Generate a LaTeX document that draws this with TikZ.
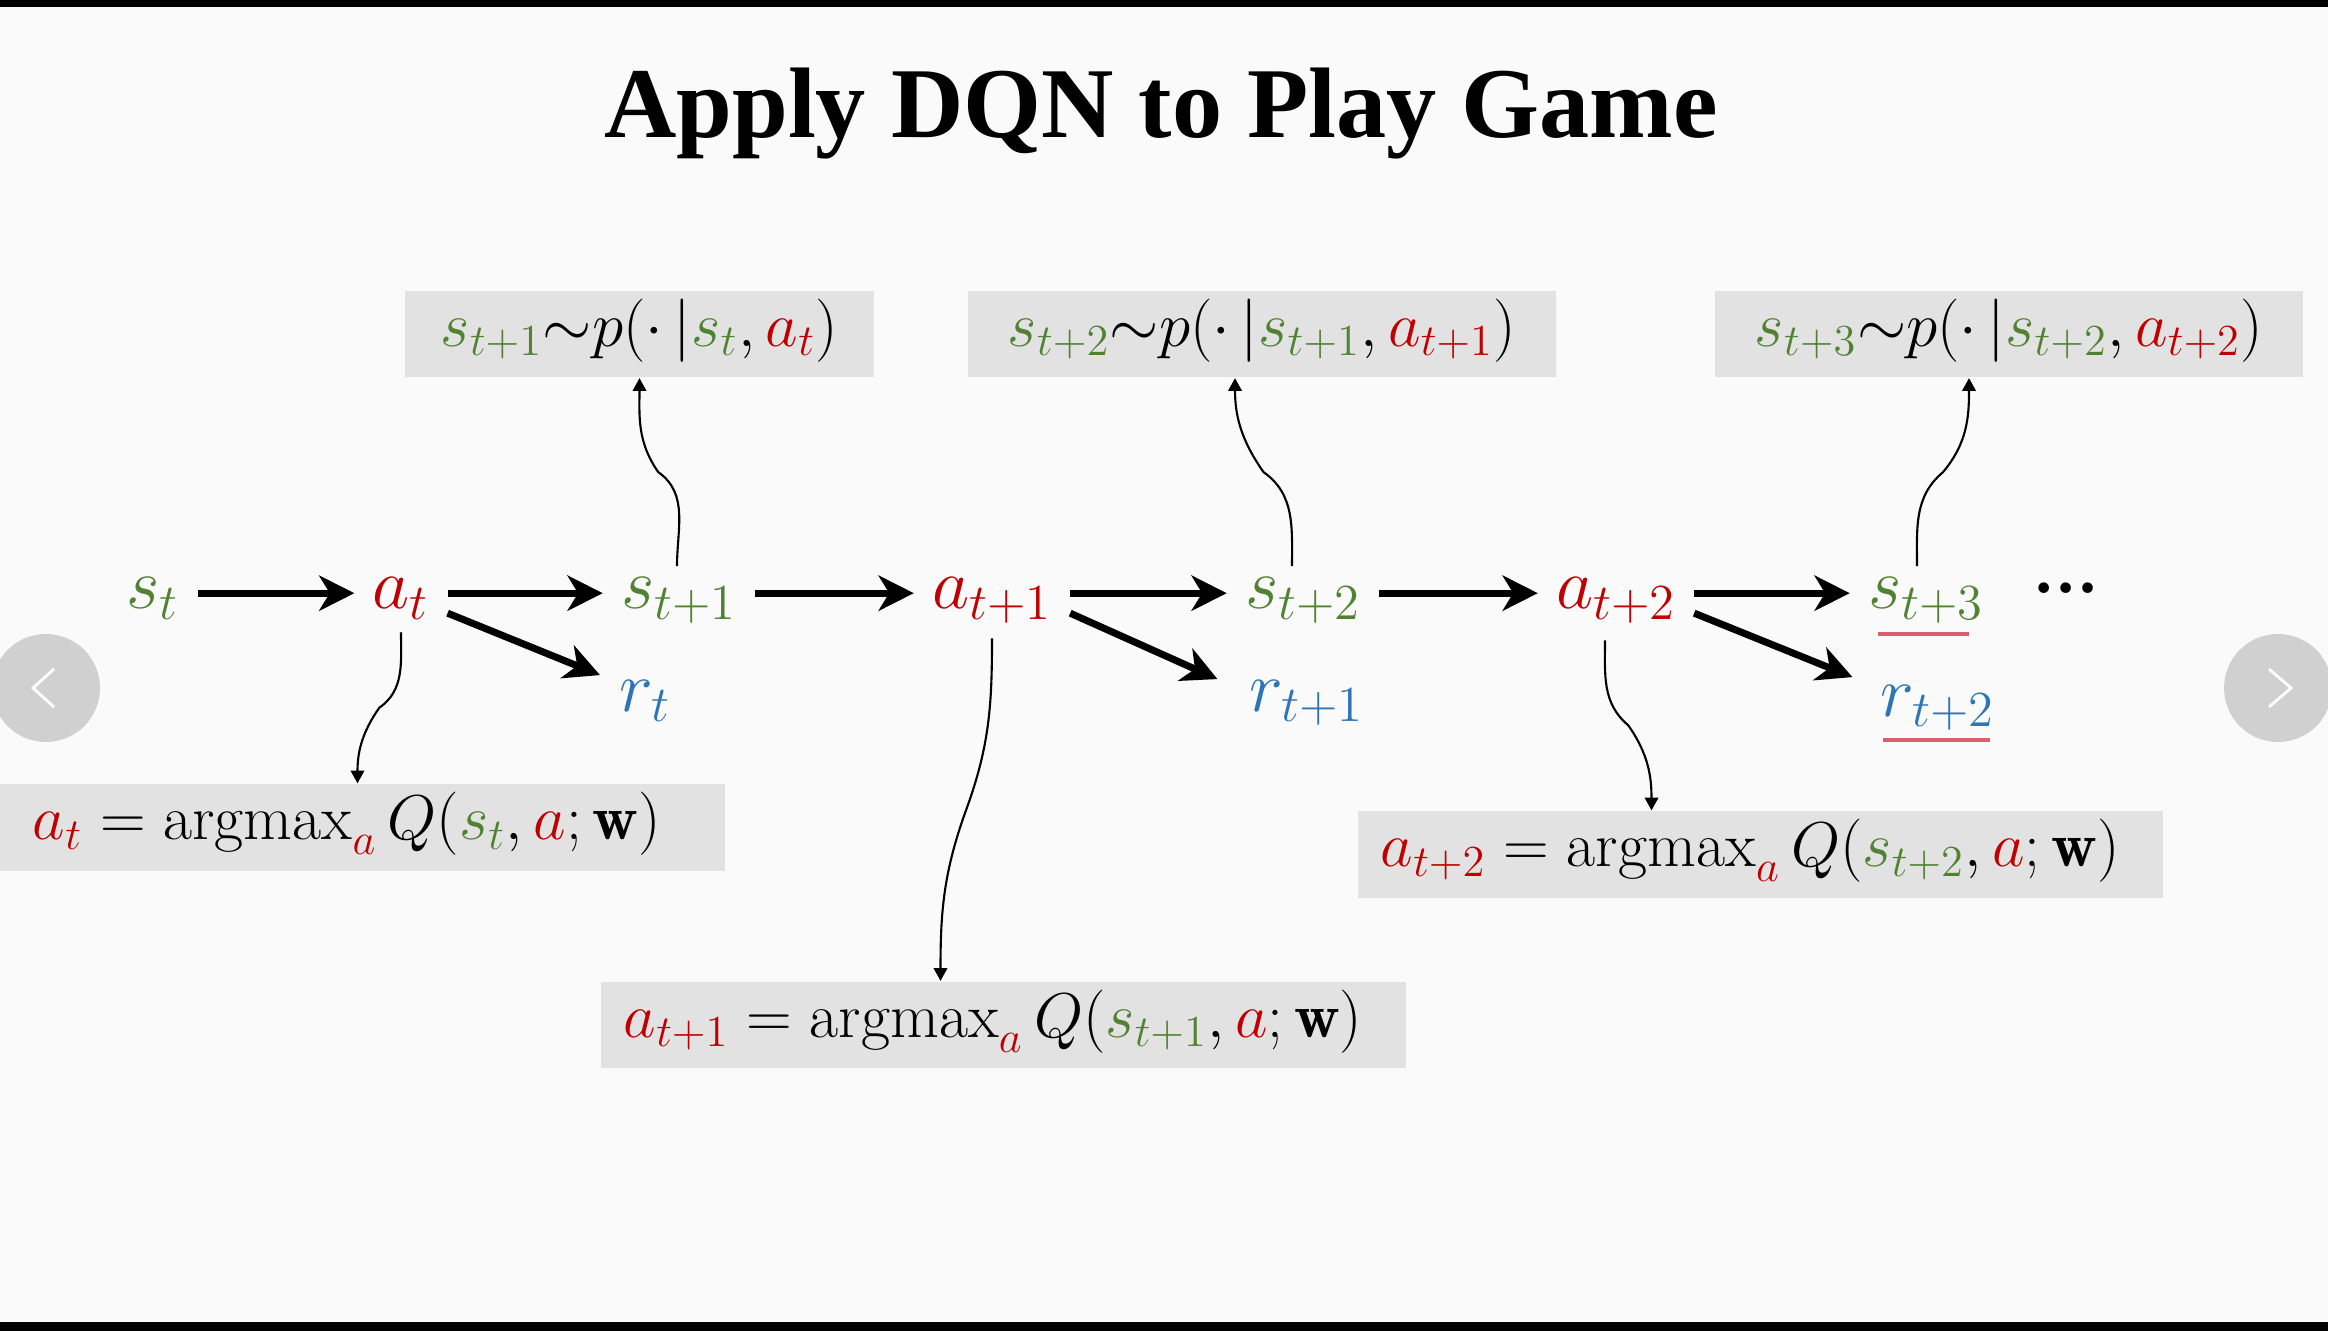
\RequirePackage{fix-cm}
\documentclass[tikz,border=0pt]{standalone}
\usepackage{fontspec}
\newfontfamily\titlefont{Liberation Serif}
\usetikzlibrary{arrows.meta,calc}
\definecolor{sgreen}{HTML}{508232}
\definecolor{ared}{HTML}{C00000}
\definecolor{rblue}{HTML}{2E75B6}
\definecolor{boxgray}{HTML}{E2E2E2}
\definecolor{bggray}{HTML}{FAFAFA}
\definecolor{navgray}{HTML}{D0D0D0}
\definecolor{ulred}{HTML}{D9606E}
\newcommand{\colS}[1]{{\color{sgreen}#1}}
\newcommand{\colA}[1]{{\color{ared}#1}}
\newcommand{\colR}[1]{{\color{rblue}#1}}
\newcommand{\argmx}{\mathop{\mathrm{argmax}}\nolimits}
\tikzset{
  lab/.style={inner xsep=5pt, inner ysep=0pt, text height=12pt, text depth=3pt,
    anchor=base, font=\fontsize{20.5}{24}\selectfont},
  gbox/.style={fill=boxgray, inner ysep=0pt, minimum height=24.7pt,
    text height=0.85em, text depth=0.15em, font=\fontsize{18}{21}\selectfont},
  gboxl/.style={gbox, align=left, inner xsep=6.5pt, text width=216pt},
  thk/.style={line width=2pt, -{Stealth[length=10pt,width=10pt,inset=3pt]}},
  thn/.style={line width=0.6pt, -{Triangle[length=3.6pt,width=3.8pt]}},
}
\begin{document}
\begin{tikzpicture}[x=0.01cm,y=0.01cm]
\useasboundingbox (0,0) rectangle (2328,-1331);
\fill[bggray] (0,0) rectangle (2328,-1331);
\fill[black] (0,0) rectangle (2328,-7);
\fill[black] (0,-1322) rectangle (2328,-1331);

% title
\node[anchor=base, font=\titlefont\bfseries\fontsize{28.5}{34}\selectfont] (title) at (1161,-138) {Apply DQN to Play Game};

% navigation buttons
\fill[navgray] (46,-688) circle (54);
\draw[white, line width=0.8pt] (54,-669) -- (33,-688) -- (54,-707);
\fill[navgray] (2278,-688) circle (54);
\draw[white, line width=0.8pt] (2269,-669) -- (2291,-688) -- (2269,-707);

% main chain
\node[lab] (st)  at (153,-609)  {$\colS{s_t}$};
\node[lab] (at)  at (401,-609)  {$\colA{a_t}$};
\node[lab] (st1) at (679,-609)  {$\colS{s_{t+1}}$};
\node[lab] (rt)  at (645,-711)  {$\colR{r_t}$};
\node[lab] (at1) at (992,-609)  {$\colA{a_{t+1}}$};
\node[lab] (st2) at (1303,-609) {$\colS{s_{t+2}}$};
\node[lab] (rt1) at (1307,-711) {$\colR{r_{t+1}}$};
\node[lab] (at2) at (1616,-609) {$\colA{a_{t+2}}$};
\node[lab] (st3) at (1926,-609) {$\colS{s_{t+3}}$};
\node[lab] (rt2) at (1938,-716) {$\colR{r_{t+2}}$};
\node[anchor=base, inner sep=0pt, font=\titlefont\bfseries\fontsize{18.5}{20}\selectfont] (dots) at (2066,-593) {…};

% boxes
\node[gbox, minimum width=133.4pt] (b1) at (639.5,-334)
  {$\colS{s_{t+1}}{\sim}p(\cdot\,|\colS{s_t},\colA{a_t})$};
\node[gbox, minimum width=167.3pt] (b2) at (1262,-334)
  {$\colS{s_{t+2}}{\sim}p(\cdot\,|\colS{s_{t+1}},\colA{a_{t+1}})$};
\node[gbox, minimum width=167.3pt] (b3) at (2009,-334)
  {$\colS{s_{t+3}}{\sim}p(\cdot\,|\colS{s_{t+2}},\colA{a_{t+2}})$};
\node[gboxl, inner xsep=12.2pt, text width=184.7pt] (b4) at (357.5,-827.5)
  {$\colA{a_t}=\argmx_{\colA{a}} Q(\colS{s_t},\colA{a};\mathbf{w})$};
\node[gboxl] (b5) at (1003.5,-1025)
  {$\colA{a_{t+1}}=\argmx_{\colA{a}} Q(\colS{s_{t+1}},\colA{a};\mathbf{w})$};
\node[gboxl] (b6) at (1760.5,-854.5)
  {$\colA{a_{t+2}}=\argmx_{\colA{a}} Q(\colS{s_{t+2}},\colA{a};\mathbf{w})$};

% thick arrows
\draw[thk] (st) -- (at);
\draw[thk] (at) -- (st1);
\draw[thk] (st1) -- (at1);
\draw[thk] (at1) -- (st2);
\draw[thk] (st2) -- (at2);
\draw[thk] (at2) -- (st3);
\draw[thk] ($(at.east)+(0,-20)$) -- ($(rt.north west)+(-1,-7)$);
\draw[thk] ($(at1.east)+(0,-20)$) -- ($(rt1.north west)+(-14,-11)$);
\draw[thk] ($(at2.east)+(0,-20)$) -- ($(rt2.north west)+(-10,-4)$);

% curved thin connectors
\coordinate (c1s) at ($(st1.north)+(-2,0)$);
\coordinate (c1e) at (b1.south);
\draw[thn] (c1s) to[out=90,in=-35] ($(c1s)!0.5!(c1e)$) to[out=125,in=-90] (c1e);
\coordinate (c2s) at ($(st2.north)+(-11,0)$);
\coordinate (c2e) at ($(b2.south)+(-27,0)$);
\draw[thn] (c2s) to[out=90,in=-35] ($(c2s)!0.5!(c2e)$) to[out=125,in=-90] (c2e);
\coordinate (c3s) at ($(st3.north)+(-9,0)$);
\coordinate (c3e) at ($(b3.south)+(-40,0)$);
\draw[thn] (c3s) to[out=90,in=-140] ($(c3s)!0.5!(c3e)$) to[out=50,in=-90] (c3e);
\coordinate (c4s) at ($(at.south)+(0,-12)$);
\coordinate (c4e) at (b4.north);
\draw[thn] (c4s) to[out=-90,in=35] ($(c4s)!0.5!(c4e)$) to[out=-125,in=90] (c4e);
\coordinate (c5s) at ($(at1.south)+(0,-18)$);
\coordinate (c5e) at ($(b5.north)+(-63,0)$);
\draw[thn] (c5s) to[out=-90,in=70] ($(c5s)!0.5!(c5e)$) to[out=-110,in=90] (c5e);
\coordinate (c6s) at ($(at2.south)+(-11,-20)$);
\coordinate (c6e) at ($(b6.north)+(-109,0)$);
\draw[thn] (c6s) to[out=-90,in=140] ($(c6s)!0.5!(c6e)$) to[out=-55,in=90] (c6e);

% red underlines
\draw[ulred, line width=0.9pt] ($(st3.base)+(-48,-25)$) -- ($(st3.base)+(43,-25)$);
\draw[ulred, line width=0.9pt] ($(rt2.base)+(-55,-24)$) -- ($(rt2.base)+(52,-24)$);
\end{tikzpicture}
\end{document}
